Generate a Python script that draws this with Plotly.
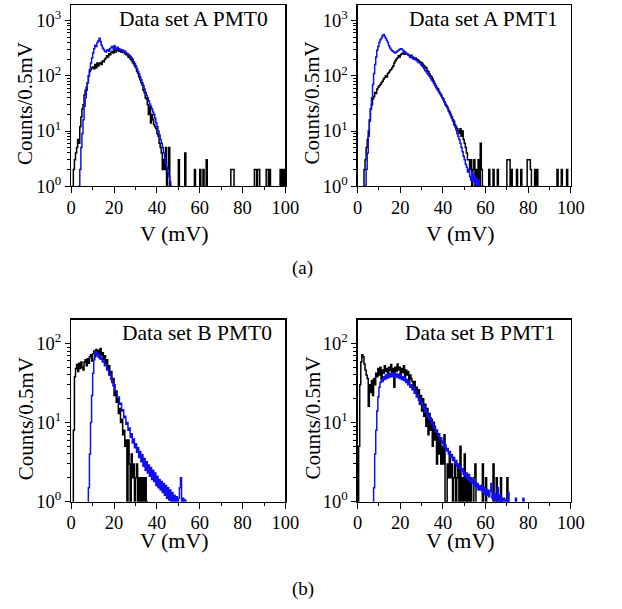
import plotly.graph_objects as go

# ---------------- data (counts per 0.5 mV bin) ----------------
BIN = 0.5

# Data set A, PMT0
a0_black_start = 0.5
a0_black = [1, 2, 3, 4, 5, 7, 6, 12, 18, 25, 30, 45, 55, 62, 75, 100, 120, 130, 140, 145,
            135, 160, 140, 170, 150, 165, 175, 160, 185, 180, 200, 210, 230, 220, 250, 240, 265, 280, 260, 300,
            270, 290, 310, 280, 300, 270, 290, 265, 275, 250, 240, 245, 220, 215, 200, 190, 175, 165, 150, 140,
            120, 110, 95, 85, 75, 68, 55, 50, 40, 38, 30, 20, 28, 14, 20, 16, 13, 12, 11, 9,
            8, 6, 5, 4, 2, 3, 2, 5, 1, 2, 5, 0, 1]
a0_black_tail_x = [50.0, 53.0, 57.5, 60.0, 61.5, 63.0, 74.5, 75.0, 75.5, 85.5, 86.0, 87.0, 87.5,
                   91.0, 91.5, 92.5, 97.5, 98.0, 98.5, 99.0, 99.5]
a0_black_tail_n = [3, 4, 2, 2, 2, 3, 2, 2, 2, 2, 2, 2, 2,
                   2, 2, 2, 2, 1, 2, 1, 2]
a0_blue_start = 3.5
a0_blue = [1, 2, 5, 9, 16, 28, 40, 55, 75, 100, 130, 170, 210, 260, 310, 360, 340, 400, 430, 480,
           420, 360, 320, 300, 280, 270, 290, 300, 280, 310, 330, 340, 310, 350, 320, 300, 330, 310, 295, 300,
           285, 290, 270, 280, 260, 255, 240, 235, 225, 210, 200, 180, 165, 150, 135, 120, 108, 95, 85, 75,
           66, 58, 50, 44, 40, 35, 31, 28, 25, 22, 20, 17, 14, 12, 10, 8.5, 7, 6, 5, 4,
           3.2, 2.6, 2.2, 1.8, 1.5, 1.2, 0.8]

# Data set A, PMT1
a1_black_start = 3.0
a1_black = [2, 3, 5, 7, 10, 16, 25, 30, 38, 42, 50, 48, 58, 62, 66, 70, 75, 80, 88, 92,
            100, 95, 110, 115, 125, 130, 140, 150, 170, 185, 200, 210, 230, 220, 240, 250, 260, 245, 270, 255,
            250, 240, 235, 225, 235, 220, 215, 205, 210, 200, 195, 185, 180, 175, 170, 160, 150, 145, 140, 125,
            118, 108, 100, 95, 88, 80, 72, 66, 60, 58, 52, 48, 45, 40, 38, 34, 30, 28, 26, 23,
            22, 20, 18, 16, 15, 13, 12, 11, 10, 9, 11, 8, 10, 7, 6, 5, 4, 3, 3, 2,
            3, 1, 2, 3, 1, 2, 1, 3, 1, 6, 2, 1]
a1_black_tail_x = [61.5, 63.5, 65.5, 70.0, 70.5, 71.0, 72.0, 74.5, 76.5, 79.5, 80.0, 80.5, 81.0,
                   83.0, 84.0, 93.5, 95.5, 98.0]
a1_black_tail_n = [2, 2, 2, 3, 3, 3, 2, 2, 2, 3, 3, 3, 2,
                   2, 2, 2, 2, 2]
a1_blue_start = 3.5
a1_blue = [1, 2, 4, 8, 15, 25, 40, 70, 110, 160, 220, 290, 340, 400, 450, 480, 530, 560, 520, 480,
           440, 400, 350, 320, 300, 285, 275, 265, 260, 270, 280, 290, 300, 310, 305, 295, 280, 260, 245, 255,
           240, 230, 215, 225, 210, 200, 210, 195, 190, 180, 175, 170, 160, 150, 145, 135, 125, 118, 110, 105,
           98, 92, 85, 80, 74, 68, 63, 58, 54, 50, 47, 43, 40, 37, 34, 31, 29, 27, 24, 21,
           19, 17, 15, 13, 12, 10.5, 9, 8, 7, 6, 5, 4.2, 3.5, 3, 2.5, 2.2, 1.8, 2, 1.5, 1.3,
           1.8, 1.2, 1.6, 1.1, 1.4, 0.9, 1.3, 0.8]

# Data set B, PMT0
b0_black_start = 1.0
b0_black = [8, 38, 48, 54, 44, 56, 48, 58, 50, 46, 58, 62, 52, 64, 56, 68, 72, 60, 74, 80,
            68, 84, 72, 82, 66, 86, 70, 76, 62, 70, 56, 62, 48, 52, 40, 44, 32, 36, 22, 25,
            18, 20, 13, 15, 10, 11, 7, 8, 5, 6, 1, 6, 3, 0, 4, 2, 3, 1, 2, 3,
            1, 2, 1, 2, 1, 2, 1, 2, 1]
b0_blue_start = 7.5
b0_blue = [0.5, 1.5, 4, 10, 22, 42, 62, 78, 72, 76, 68, 72, 63, 66, 58, 60, 52, 54, 46, 47,
           40, 41, 35, 35, 29, 30, 25, 25, 21, 21, 17, 17.5, 14, 14.5, 11.5, 12, 9.5, 10, 8, 8.5,
           6.5, 7.2, 5.5, 6.2, 4.8, 5.4, 4.2, 4.8, 3.6, 4.3, 3.2, 3.9, 2.8, 3.5, 2.5, 3.2, 2.3, 2.9, 2.1, 2.7,
           1.9, 2.5, 1.8, 2.3, 1.6, 2.1, 1.5, 1.9, 1.4, 1.8, 1.3, 1.7, 1.2, 1.6, 1.1, 1.5, 1.05, 1.4, 1.0, 1.3,
           0.9, 1.2, 0.9, 1.15, 0.8, 1.1, 1.5, 2.0, 0.8, 1.1, 0.7, 1.05]

# Data set B, PMT1
b1_black_start = 0.5
b1_black = [5, 30, 58, 72, 68, 55, 46, 40, 36, 16, 30, 24, 34, 22, 36, 30, 42, 38, 48, 40,
            50, 36, 46, 42, 52, 44, 48, 38, 50, 45, 54, 42, 48, 28, 50, 44, 55, 46, 50, 40,
            48, 43, 52, 38, 46, 40, 44, 34, 40, 36, 33, 28, 33, 24, 28, 22, 26, 17, 22, 14,
            20, 12, 17, 9, 15, 7, 13, 8, 11, 5, 10, 6, 8, 3, 7, 4, 6, 3, 5, 3,
            7, 1, 0, 3, 2, 4, 2, 3, 1, 2, 3, 1, 2, 3, 1, 5, 1, 2, 1, 4,
            1, 2, 1, 2, 1]
b1_black_tail_x = [53.0, 54.5, 55.0, 58.5, 60.0, 63.5, 65.0, 67.0, 70.0]
b1_black_tail_n = [2, 2, 3, 3, 2, 3, 2, 2, 2]
b1_blue_start = 7.0
b1_blue = [0.5, 1.5, 4, 8, 14, 21, 28, 32, 35, 33, 38, 35, 40, 36, 41, 37, 42, 38, 42, 38,
           42, 38, 41, 37, 41, 36, 40, 35, 38, 34, 37, 32, 35, 30, 33, 28, 30, 26, 28, 23.5,
           25, 21, 22.5, 19, 20, 17, 18, 15, 16, 13.5, 14.5, 12, 13, 10.8, 11.5, 9.6, 10.2, 8.5, 9.0, 7.6,
           8.0, 6.8, 7.2, 6.0, 6.4, 5.4, 5.8, 4.9, 5.2, 4.4, 4.7, 4.0, 4.3, 3.6, 3.9, 3.3, 3.6, 3.0, 3.3, 2.8,
           3.0, 2.6, 2.8, 2.4, 2.6, 2.2, 2.4, 2.0, 2.3, 1.9, 2.2, 1.8, 2.0, 1.7, 1.9, 1.6, 1.8, 1.5, 1.7, 1.4,
           1.6, 1.4, 1.6, 1.3, 1.5, 1.25, 1.45, 1.2, 1.4, 1.15, 1.35, 1.7, 1.1, 1.3, 1.05, 1.25, 1.0, 1.5, 1.0, 1.2,
           0.9, 1.1, 0.8, 1.1, 0.7, 1.05, 0.6, 1.3, 0.5, 0.9, 0.5]
b1_blue_tail_x = [74.0, 77.5]
b1_blue_tail_n = [1.1, 1.1]

x_ticks = [0, 20, 40, 60, 80, 100]
y_ticks_a = [1, 10, 100, 1000]
y_ticks_b = [1, 10, 100]
y_ticktext_a = ["10<sup>0</sup>", "10<sup>1</sup>", "10<sup>2</sup>", "10<sup>3</sup>"]
y_ticktext_b = ["10<sup>0</sup>", "10<sup>1</sup>", "10<sup>2</sup>"]
titles = ["Data set A PMT0", "Data set A PMT1", "Data set B PMT0", "Data set B PMT1"]

# ---------------- helpers ----------------
NB = 200


def hist_steps(start, counts, tail_x=(), tail_n=()):
    arr = [0.0] * NB
    i0 = int(round(start / BIN))
    for k, c in enumerate(counts):
        arr[i0 + k] = c
    for xv, c in zip(tail_x, tail_n):
        arr[int(round(xv / BIN))] = c
    edges = [BIN * i for i in range(NB + 1)]
    ys = [v if v > 0 else 0.01 for v in arr]
    ys.append(ys[-1])
    return edges, ys


W, H = 622, 609
FONT = "'Liberation Serif', 'Times New Roman', serif"
BLACK = "#000000"
BLUE = "#1010ee"

# plot-area pixel boxes: (x0, x1, ytop, ybottom)
boxes = [(68.3, 289.3, 5, 189.3), (363.7, 583.7, 5, 189.3),
         (68.3, 289.3, 325, 510), (363.7, 583.7, 325, 510)]
title_gap = [16, 11, 12, 14]

series = [
    (hist_steps(a0_black_start, a0_black, a0_black_tail_x, a0_black_tail_n), hist_steps(a0_blue_start, a0_blue)),
    (hist_steps(a1_black_start, a1_black, a1_black_tail_x, a1_black_tail_n), hist_steps(a1_blue_start, a1_blue)),
    (hist_steps(b0_black_start, b0_black), hist_steps(b0_blue_start, b0_blue)),
    (hist_steps(b1_black_start, b1_black, b1_black_tail_x, b1_black_tail_n),
     hist_steps(b1_blue_start, b1_blue, b1_blue_tail_x, b1_blue_tail_n)),
]

fig = go.Figure()
layout = dict(width=W, height=H, margin=dict(l=0, r=0, t=0, b=0), showlegend=False,
              paper_bgcolor="white", plot_bgcolor="white",
              font=dict(family=FONT, size=18, color="black"))
annotations = []

for i, (box, (blk, blu)) in enumerate(zip(boxes, series)):
    n = i + 1
    xa = "x" if n == 1 else f"x{n}"
    ya = "y" if n == 1 else f"y{n}"
    x0, x1, yt, yb = box
    for (ex, ey), col in ((blk, BLACK), (blu, BLUE)):
        fig.add_trace(go.Scatter(x=ex, y=ey, mode="lines", line=dict(color=col, width=1.5, shape="hv"),
                                 xaxis=xa, yaxis=ya, hoverinfo="skip"))
    is_a = i < 2
    yr = [0, 3.285] if is_a else [0, 2.30]
    ytv = y_ticks_a if is_a else y_ticks_b
    ytt = y_ticktext_a if is_a else y_ticktext_b
    minor_vals = [m * d for d in ytv[:-1] for m in range(2, 10)]
    layout["xaxis" if n == 1 else f"xaxis{n}"] = dict(
        domain=[x0 / W, x1 / W], anchor=ya, range=[0, 100], tickvals=x_ticks,
        ticks="outside", ticklen=6, tickwidth=1, tickcolor="black", ticklabelstandoff=-2,
        minor=dict(ticks="outside", ticklen=3, tickvals=[10, 30, 50, 70, 90], tickcolor="black"),
        showline=True, linecolor="black", linewidth=1.2, mirror=True, showgrid=False, zeroline=False,
        tickfont=dict(family=FONT, size=18.5))
    layout["yaxis" if n == 1 else f"yaxis{n}"] = dict(
        domain=[1 - yb / H, 1 - yt / H], anchor=xa, type="log", range=yr,
        tickvals=ytv, ticktext=ytt, ticks="outside", ticklen=5, tickwidth=1, tickcolor="black",
        minor=dict(ticks="outside", ticklen=3, tickvals=minor_vals, tickcolor="black"),
        showline=True, linecolor="black", linewidth=1.2, mirror=True, showgrid=False, zeroline=False,
        tickfont=dict(family=FONT, size=18.5))
    # panel title
    annotations.append(dict(text=titles[i], xref="paper", yref="paper", x=(x1 - title_gap[i]) / W,
                            y=1 - (yt + 14) / H, xanchor="right", yanchor="middle", showarrow=False,
                            font=dict(family=FONT, size=21.5)))
    # axis titles
    annotations.append(dict(text="V (mV)", xref="paper", yref="paper", x=((x0 + x1) / 2 - 4) / W,
                            y=1 - ((237 if is_a else 550)) / H, xanchor="center", yanchor="middle",
                            showarrow=False, font=dict(family=FONT, size=22)))
    annotations.append(dict(text="Counts/0.5mV", xref="paper", yref="paper", x=(x0 - 47) / W,
                            y=1 - ((yt + yb) / 2 + 8) / H, xanchor="center", yanchor="middle",
                            textangle=-90, showarrow=False, font=dict(family=FONT, size=21)))

annotations.append(dict(text="(a)", xref="paper", yref="paper", x=307 / W, y=1 - 272 / H,
                        xanchor="center", yanchor="middle", showarrow=False, font=dict(family=FONT, size=19)))
annotations.append(dict(text="(b)", xref="paper", yref="paper", x=307 / W, y=1 - 599 / H,
                        xanchor="center", yanchor="middle", showarrow=False, font=dict(family=FONT, size=19)))
layout["annotations"] = annotations
fig.update_layout(**layout)
fig.write_html("out.html", config={"displayModeBar": False, "staticPlot": True},
               post_script="document.body.style.margin='0px';document.body.style.overflow='hidden';")
